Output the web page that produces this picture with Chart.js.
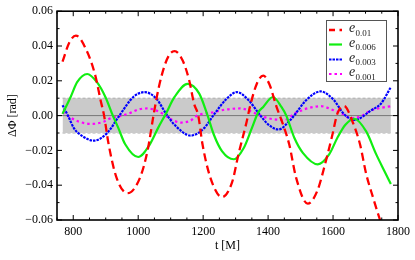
<!DOCTYPE html>
<html>
<head>
<meta charset="utf-8">
<script src="https://cdn.jsdelivr.net/npm/chart.js@4.4.0/dist/chart.umd.min.js"></script>
<style>
  html, body { margin: 0; padding: 0; background: #fff; }
</style>
</head>
<body>
<canvas id="chart" width="415" height="260"></canvas>
<script>
// === Data ===
const xTicks = [800, 1000, 1200, 1400, 1600, 1800];
const yTicks = [-0.06, -0.04, -0.02, 0, 0.02, 0.04, 0.06];
const bandLimits = [-0.01, 0.01];
const bandRange = [767, 1778];
const seriesLabels = ['0.01', '0.006', '0.003', '0.001'];

// [t, ΔΦ]
const e001 = [
  [767,0.031],[788,0.042],[808,0.046],[842,0.037],[868,0.023],[884,0.009],[895,0.0],
  [909,-0.0165],[933,-0.0355],[967,-0.0446],[1006,-0.0355],[1030,-0.019],[1047,0.0],
  [1062,0.015],[1081,0.0286],[1098,0.0355],[1112,0.0371],[1137,0.0316],[1157,0.0203],
  [1172,0.0069],[1185,0.0],[1198,-0.0165],[1222,-0.0355],[1258,-0.0469],[1289,-0.0384],
  [1309,-0.0221],[1334,-0.0035],[1344,0.005],[1365,0.0182],[1385,0.023],[1404,0.018],
  [1426,0.005],[1440,-0.002],[1465,-0.0165],[1486,-0.0355],[1522,-0.0506],[1552,-0.043],
  [1578,-0.026],[1598,-0.011],[1613,0.001],[1634,0.0055],[1660,-0.0035],[1683,-0.0165],
  [1702,-0.0335],[1723,-0.047],[1743,-0.059],[1760,-0.068]
];
const e0006 = [
  [767,0.001],[792,0.0107],[812,0.0192],[843,0.0239],[873,0.0192],[899,0.0107],[922,0.0],
  [939,-0.0072],[960,-0.0165],[1000,-0.0238],[1036,-0.0165],[1061,-0.0072],[1085,0.001],
  [1112,0.0107],[1152,0.0182],[1188,0.0126],[1212,0.001],[1233,-0.011],[1258,-0.0204],
  [1294,-0.0251],[1325,-0.0186],[1350,-0.0072],[1370,0.002],[1385,0.005],[1415,0.0107],
  [1441,0.005],[1456,0.0],[1481,-0.0129],[1507,-0.0214],[1553,-0.028],[1588,-0.0223],
  [1613,-0.0129],[1638,-0.0053],[1665,-0.0018],[1702,-0.0091],[1733,-0.0223],
  [1758,-0.0318],[1778,-0.0393]
];
const e0003 = [
  [767,0.006],[785,-0.0005],[802,-0.0072],[830,-0.012],[863,-0.0144],[904,-0.0101],
  [942,0.0],[985,0.0107],[1020,0.0135],[1056,0.0097],[1086,0.001],[1112,-0.0053],
  [1162,-0.0115],[1203,-0.0072],[1233,0.0005],[1274,0.010],[1304,0.0135],[1340,0.0088],
  [1375,0.0003],[1400,-0.005],[1432,-0.008],[1466,-0.003],[1480,0.0],[1517,0.0088],
  [1562,0.0139],[1603,0.0088],[1633,0.001],[1667,-0.0025],[1717,0.003],[1748,0.007],
  [1778,0.0164]
];
const e0001 = [
  [767,0.002],[790,-0.001],[818,-0.0035],[858,-0.0048],[894,-0.0035],[914,-0.0016],
  [940,-0.0005],[975,0.0015],[1000,0.0035],[1030,0.0041],[1055,0.003],[1076,0.001],
  [1100,-0.002],[1132,-0.004],[1160,-0.003],[1182,0.0],[1233,0.002],[1270,0.0035],
  [1314,0.0041],[1365,0.001],[1400,-0.0015],[1450,-0.0025],[1480,0.001],[1510,0.0035],
  [1541,0.005],[1562,0.0054],[1603,0.003],[1629,0.001],[1655,-0.0015],[1685,-0.0005],
  [1717,0.003],[1750,0.0045],[1778,0.0054]
];

// === Styles ===
const FONT = 'Liberation Serif';
const styles = [
  { color: '#ff0000', width: 2.3, dash: [8, 4.5] },
  { color: '#11ee11', width: 2.2, dash: [] },
  { color: '#0000ff', width: 2.2, dash: [2.5, 1] },
  { color: '#ff00ff', width: 2.2, dash: [2.5, 3] }
];

const toXY = arr => arr.map(([x, y]) => ({ x, y }));

function lineSet(label, pts, st){
  return {
    label, data: toXY(pts),
    borderColor: st.color, borderWidth: st.width, borderDash: st.dash,
    pointRadius: 0, fill: false, cubicInterpolationMode: 'monotone'
  };
}

const datasets = [
  lineSet(seriesLabels[0], e001, styles[0]),
  lineSet(seriesLabels[1], e0006, styles[1]),
  lineSet(seriesLabels[2], e0003, styles[2]),
  lineSet(seriesLabels[3], e0001, styles[3]),
  { label: 'zero', data: [{x:750,y:0},{x:1800,y:0}], borderColor: '#777', borderWidth: 1, pointRadius: 0, fill: false },
  { label: 'bandTop', data: bandRange.map(x => ({ x, y: bandLimits[1] })), borderColor: '#aaa', borderWidth: 1,
    borderDash: [3, 2], pointRadius: 0, fill: '+1', backgroundColor: '#cacaca' },
  { label: 'bandBottom', data: bandRange.map(x => ({ x, y: bandLimits[0] })), borderColor: '#aaa', borderWidth: 1,
    borderDash: [3, 2], pointRadius: 0, fill: false }
];

// frame + inward ticks (Mathematica style)
const framePlugin = {
  id: 'frame',
  afterDatasetsDraw(chart){
    const { ctx, chartArea: a, scales: { x, y } } = chart;
    ctx.save();
    ctx.strokeStyle = '#000';
    ctx.lineWidth = 1;
    const tick = (px, len, horiz) => {
      ctx.beginPath();
      if (horiz) { ctx.moveTo(px, a.bottom); ctx.lineTo(px, a.bottom - len); ctx.moveTo(px, a.top); ctx.lineTo(px, a.top + len); }
      else { ctx.moveTo(a.left, px); ctx.lineTo(a.left + len, px); ctx.moveTo(a.right, px); ctx.lineTo(a.right - len, px); }
      ctx.stroke();
    };
    for (let v = 750; v <= 1800; v += 50) tick(x.getPixelForValue(v), xTicks.includes(v) ? 5 : 2.5, true);
    for (let i = -6; i <= 6; i++) tick(y.getPixelForValue(i / 100), i % 2 === 0 ? 5 : 2.5, false);
    ctx.lineWidth = 1.6;
    ctx.strokeRect(a.left, a.top, a.right - a.left, a.bottom - a.top);
    ctx.restore();
  }
};

// legend with italic e and subscript
const legendPlugin = {
  id: 'subLegend',
  afterDraw(chart){
    const { ctx } = chart;
    ctx.save();
    ctx.fillStyle = '#fff';
    ctx.fillRect(326, 20, 60, 61);
    ctx.strokeStyle = '#555';
    ctx.lineWidth = 1;
    ctx.strokeRect(326.5, 20.5, 60, 61);
    const rows = [30, 44.5, 59.5, 74];
    seriesLabels.forEach((lab, i) => {
      const st = styles[i];
      ctx.strokeStyle = st.color;
      ctx.lineWidth = st.width;
      ctx.setLineDash(st.dash.length ? st.dash.map(d => Math.min(d, 6)) : []);
      ctx.beginPath();
      ctx.moveTo(329, rows[i]);
      ctx.lineTo(342, rows[i]);
      ctx.stroke();
      ctx.setLineDash([]);
      ctx.fillStyle = '#222';
      ctx.textBaseline = 'alphabetic';
      ctx.font = `italic 14px "${FONT}"`;
      ctx.fillText('e', 349, rows[i] + 2);
      ctx.font = `9px "${FONT}"`;
      ctx.fillText(lab, 355.5, rows[i] + 5.5);
    });
    ctx.restore();
  }
};

new Chart(document.getElementById('chart'), {
  type: 'line',
  data: { datasets },
  options: {
    responsive: false,
    animation: false,
    layout: { padding: { top: 8, right: 13, left: 0, bottom: 0 } },
    plugins: { legend: { display: false }, tooltip: { enabled: false } },
    scales: {
      x: {
        type: 'linear', min: 750, max: 1800,
        afterBuildTicks: s => { s.ticks = xTicks.map(value => ({ value })); },
        afterFit: s => { s.height = 40; },
        grid: { display: false, drawTicks: false },
        border: { display: false },
        ticks: { color: '#000', padding: 5, maxRotation: 0, font: { family: FONT, size: 12 }, callback: v => String(v) },
        title: { display: true, text: 't [M]', color: '#000', font: { family: FONT, size: 12 }, padding: { top: 0, bottom: 7 } }
      },
      y: {
        min: -0.06, max: 0.06,
        afterBuildTicks: s => { s.ticks = yTicks.map(value => ({ value })); },
        afterFit: s => { s.width = 57; },
        grid: { display: false, drawTicks: false },
        border: { display: false },
        ticks: { color: '#000', padding: 4, font: { family: FONT, size: 12 },
          callback: v => (v < -1e-9 ? '\u2212' : '') + Math.abs(v).toFixed(2) },
        title: { display: true, text: 'ΔΦ [rad]', color: '#000', font: { family: FONT, size: 12 }, padding: { top: 6, bottom: 0 } }
      }
    }
  },
  plugins: [framePlugin, legendPlugin]
});
</script>
</body>
</html>
